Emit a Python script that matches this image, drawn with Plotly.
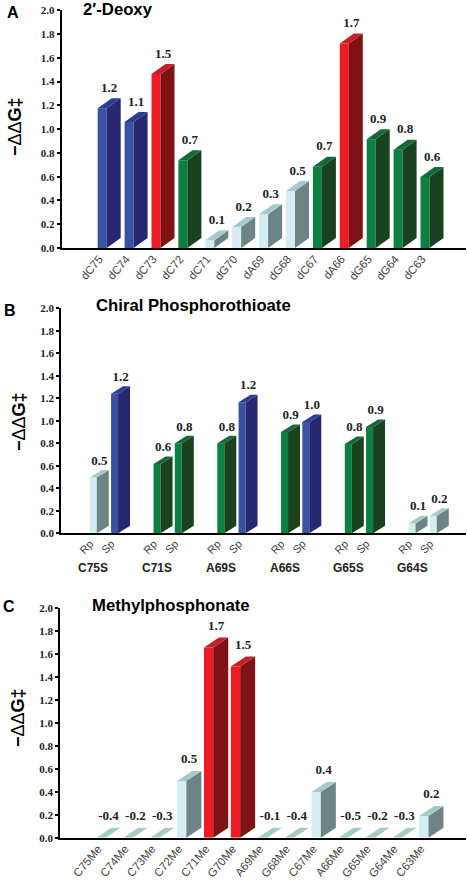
import plotly.graph_objects as go

W, H = 467, 882

# ---------- data ----------
a_names = ["dC75","dC74","dC73","dC72","dC71","dG70","dA69","dG68","dC67","dA66","dG65","dG64","dC63"]
a_heights = [1.175,1.06,1.464,0.738,0.065,0.177,0.283,0.48,0.684,1.72,0.914,0.827,0.597]
a_labels = ["1.2","1.1","1.5","0.7","0.1","0.2","0.3","0.5","0.7","1.7","0.9","0.8","0.6"]
a_groups = ["blue","blue","red","green","pale","pale","pale","pale","green","red","green","green","green"]

b_names = ["Rp","Sp","Rp","Sp","Rp","Sp","Rp","Sp","Rp","Sp","Rp","Sp"]
b_heights = [0.495,1.24,0.616,0.80,0.80,1.165,0.90,0.99,0.794,0.945,0.09,0.157]
b_labels = ["0.5","1.2","0.6","0.8","0.8","1.2","0.9","1.0","0.8","0.9","0.1","0.2"]
b_groups = ["pale","blue","green","green","green","blue","green","blue","green","green","pale","pale"]
b_sets = ["C75S","C71S","A69S","A66S","G65S","G64S"]
b_slots = [0,1,3,4,6,7,9,10,12,13,15,16]
b_set_slots = [0,3,6,9,12,15]

c_names = ["C75Me","C74Me","C73Me","C72Me","C71Me","G70Me","A69Me","G68Me","C67Me","A66Me","G65Me","G64Me","C63Me"]
c_heights = [0,0,0,0.493,1.655,1.49,0,0,0.398,0,0,0,0.19]
c_labels = ["-0.4","-0.2","-0.3","0.5","1.7","1.5","-0.1","-0.4","0.4","-0.5","-0.2","-0.3","0.2"]
c_groups = ["pale","pale","pale","pale","red","red","pale","pale","pale","pale","pale","pale","pale"]

y_ticks = [0,0.2,0.4,0.6,0.8,1.0,1.2,1.4,1.6,1.8,2.0]

palette = {
    "blue":  ("#3B52A3", "#27286F", "#2C3C96"),
    "red":   ("#ED1C24", "#7E1214", "#C4202A"),
    "green": ("#0C7F43", "#1B421F", "#14693A"),
    "pale":  ("#D3EDF3", "#6C8584", "#A6CACA"),
}

SERIF = "Liberation Serif"
SANS = "Liberation Sans"

fig = go.Figure()


def px_x(v):
    return v / W


def px_y(v):
    return 1 - v / H


def panel(idx, xs, names, heights, labels, groups, left, right, y0px, y2px,
          first_center, spacing, wpx, dxpx, dypx, gap, tickfont, angle, shift):
    suffix = "" if idx == 1 else str(idx)
    xa, ya = "x" + suffix, "y" + suffix
    scale = (y0px - y2px) / 2.0
    w, dx, dy = wpx / spacing, dxpx / spacing, dypx / scale

    fig.add_trace(go.Bar(x=xs, y=heights, width=[w] * len(xs), xaxis=xa, yaxis=ya,
                         marker=dict(color=[palette[g][0] for g in groups], line=dict(width=0)),
                         hoverinfo="skip", showlegend=False))
    for name, cols in palette.items():
        sx, sy, tx, ty = [], [], [], []
        for x, v, g in zip(xs, heights, groups):
            if g != name:
                continue
            r = x + w / 2
            l = x - w / 2
            sx += [r, r + dx, r + dx, r, r, None]
            sy += [0, dy, v + dy, v, 0, None]
            tx += [l, r, r + dx, l + dx, l, None]
            ty += [v, v, v + dy, v + dy, v, None]
        if not sx:
            continue
        for px_, py_, c in ((sx, sy, cols[1]), (tx, ty, cols[2])):
            fig.add_trace(go.Scatter(x=px_, y=py_, xaxis=xa, yaxis=ya, mode="lines",
                                     fill="toself", fillcolor=c, line=dict(width=0),
                                     hoverinfo="skip", showlegend=False))
    fig.add_trace(go.Scatter(x=[x + dx / 2 for x in xs], y=[v + dy + gap / scale for v in heights],
                             xaxis=xa, yaxis=ya, mode="text", text=labels,
                             textposition="top center", cliponaxis=False,
                             textfont=dict(family=SERIF, size=13, color="#222222", weight="bold"),
                             hoverinfo="skip", showlegend=False))

    lo = (left - first_center) / spacing
    hi = (right - first_center) / spacing
    fig.layout["xaxis" + suffix] = dict(
        domain=[px_x(left), px_x(right)], range=[lo, hi], anchor=ya, automargin=False,
        showgrid=False, zeroline=False, showline=True, linecolor="black", linewidth=1.6,
        ticks="", tickmode="array", tickvals=xs, ticktext=names, tickangle=angle,
        ticklabelshift=shift, ticklabelstandoff=-2,
        tickfont=tickfont)
    fig.layout["yaxis" + suffix] = dict(
        domain=[px_y(y0px), px_y(y2px)], range=[0, 2], anchor=xa, automargin=False,
        showgrid=False, zeroline=False, showline=True, linecolor="black", linewidth=1.6,
        ticks="outside", ticklen=3, tickwidth=1.6, tickcolor="black",
        tickmode="array", tickvals=y_ticks, ticktext=[f"{t:.1f}" for t in y_ticks],
        tickfont=dict(family=SERIF, size=11, color="#222222", weight="bold"))


def note(text, xpx, ypx, size, angle=0, family=SANS):
    fig.add_annotation(text=text, xref="paper", yref="paper", x=px_x(xpx), y=px_y(ypx),
                       showarrow=False, textangle=angle, xanchor="center", yanchor="middle",
                       font=dict(family=family, size=size, color="black"))


cat_font = dict(family=SANS, size=11.5, color="#444444")
panel(1, list(range(13)), a_names, a_heights, a_labels, a_groups,
      61.5, 466, 248, 10.3, 102.2, 26.9, 9, 14, 10, 3, cat_font, -50, -3)
panel(2, b_slots, b_names, b_heights, b_labels, b_groups,
      61, 466, 533.3, 308.3, 93.3, 21.25, 7, 12, 7.5, 2,
      dict(family=SANS, size=11, color="#444444"), -45, -3)
panel(3, list(range(13)), c_names, c_heights, c_labels, c_groups,
      60, 466, 837.7, 608, 101, 26.9, 9.3, 15, 10, 4.5, cat_font, -50, -3)

for s, name in zip(b_set_slots, b_sets):
    fig.add_annotation(text=f"<b>{name}</b>", xref="x2", yref="paper", x=s, y=px_y(567.7),
                       showarrow=False, xanchor="center", yanchor="middle",
                       font=dict(family=SANS, size=12, color="#222222"))

note("<b>A</b>", 13, 13, 16)
note("<b>B</b>", 10, 310, 16)
note("<b>C</b>", 9, 606, 16)
note("<b>2′-Deoxy</b>", 117.5, 10, 16.7)
note("<b>Chiral Phosphorothioate</b>", 193.5, 306, 16.7)
note("<b>Methylphosphonate</b>", 170.5, 605, 16.7)
note("<b>−</b>ΔΔ<b>G‡</b>", 15, 127, 18, -90)
note("<b>−</b>ΔΔ<b>G‡</b>", 19, 422, 18, -90)
note("<b>−</b>ΔΔ<b>G‡</b>", 18, 718, 18, -90)

fig.update_layout(width=W, height=H, margin=dict(l=0, r=0, t=0, b=0, pad=0, autoexpand=False),
                  paper_bgcolor="white", plot_bgcolor="white", barmode="overlay",
                  showlegend=False)
fig.write_html("out.html", config={"displayModeBar": False},
               post_script="document.body.style.margin='0';")
